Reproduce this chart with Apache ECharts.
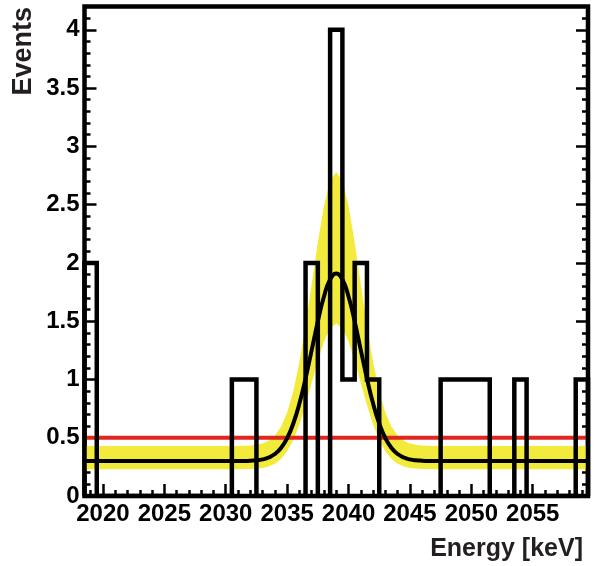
<!DOCTYPE html>
<html>
<head>
<meta charset="utf-8">
<script src="https://cdn.jsdelivr.net/npm/echarts@6/dist/echarts.min.js"></script>
<style>
  html, body { margin: 0; padding: 0; background: #ffffff; }
  #chart { width: 594px; height: 566px; }
</style>
</head>
<body>
<div id="chart"></div>
<script>
// Histogram: 1 keV bins, centres and counts
const binCentres = [2019, 2020, 2021, 2022, 2023, 2024, 2025, 2026, 2027, 2028,
  2029, 2030, 2031, 2032, 2033, 2034, 2035, 2036, 2037, 2038, 2039, 2040, 2041,
  2042, 2043, 2044, 2045, 2046, 2047, 2048, 2049, 2050, 2051, 2052, 2053, 2054,
  2055, 2056, 2057, 2058, 2059];
const eventCounts = [2, 0, 0, 0, 0, 0, 0, 0, 0, 0,
  0, 0, 1, 1, 0, 0, 0, 0, 2, 0, 4, 1, 2,
  1, 0, 0, 0, 0, 0, 1, 1, 1, 1, 0, 0, 1,
  0, 0, 0, 0, 1];
const binWidth = 1;

// Fitted line shape (flat background + peak) and its uncertainty band
const fitEnergy = [2018.5, 2031, 2031.5, 2032, 2032.5, 2033, 2033.5, 2034, 2034.5,
  2035, 2035.5, 2036, 2036.5, 2037, 2037.5, 2038, 2038.5, 2039, 2039.5, 2040,
  2040.5, 2041, 2041.5, 2042, 2042.5, 2043, 2043.5, 2044, 2044.5, 2045, 2045.5,
  2046, 2046.5, 2047, 2059.5];
const fitEvents = [0.300, 0.300, 0.301, 0.303, 0.306, 0.314, 0.330, 0.360, 0.412,
  0.496, 0.622, 0.793, 1.008, 1.252, 1.498, 1.712, 1.858, 1.910, 1.858, 1.712,
  1.498, 1.252, 1.008, 0.793, 0.622, 0.496, 0.412, 0.360, 0.330, 0.314, 0.306,
  0.303, 0.301, 0.300, 0.300];
const bandLow = [0.230, 0.230, 0.231, 0.232, 0.235, 0.241, 0.253, 0.277, 0.317,
  0.383, 0.480, 0.613, 0.780, 0.969, 1.160, 1.326, 1.440, 1.480, 1.440, 1.326,
  1.160, 0.969, 0.780, 0.613, 0.480, 0.383, 0.317, 0.277, 0.253, 0.241, 0.235,
  0.232, 0.231, 0.230, 0.230];
const bandHigh = [0.430, 0.430, 0.431, 0.434, 0.439, 0.451, 0.474, 0.518, 0.594,
  0.717, 0.899, 1.150, 1.463, 1.819, 2.178, 2.490, 2.704, 2.780, 2.704, 2.490,
  2.178, 1.819, 1.463, 1.150, 0.899, 0.717, 0.594, 0.518, 0.474, 0.451, 0.439,
  0.434, 0.431, 0.430, 0.430];

// Flat reference level
const flatLevel = 0.5;

// Axis ranges and tick labels
const xRange = [2018.5, 2059.5];
const yRange = [0, 4.2];
const xTickLabels = [2020, 2025, 2030, 2035, 2040, 2045, 2050, 2055];
const yTickLabels = [0, 0.5, 1, 1.5, 2, 2.5, 3, 3.5, 4];

// Minor ticks: every 1 keV and every 0.1 events
const xMinorTicks = [];
for (let e = 2019; e <= 2059; e++) if (xTickLabels.indexOf(e) < 0) xMinorTicks.push(e);
const yMinorTicks = [];
for (let k = 1; k <= 41; k++) if (k % 5 !== 0) yMinorTicks.push(+(k / 10).toFixed(1));

// Step outline points: left edge of each bin, closed at the right end
const histPoints = [[xRange[0], 0]];
binCentres.forEach((c, i) => histPoints.push([c - binWidth / 2, eventCounts[i]]));
histPoints.push([binCentres[binCentres.length - 1] + binWidth / 2, eventCounts[eventCounts.length - 1]]);
histPoints.push([xRange[1], 0]);

const fitPoints = fitEnergy.map((e, i) => [e, fitEvents[i]]);
const flatPoints = [[xRange[0], flatLevel], [xRange[1], flatLevel]];

const tickFont = '"Liberation Sans", Arial, Helvetica, sans-serif';
const titleFont = '"Liberation Sans", Arial, Helvetica, sans-serif';
const tickLine = { color: '#000', width: 2.5 };

function labelStyle(values) {
  return {
    show: true, customValues: values, fontFamily: tickFont, fontSize: 24,
    fontWeight: 'bold', color: '#000', hideOverlap: false,
    showMinLabel: true, showMaxLabel: true,
    formatter: v => String(v)
  };
}
function xAxisDef(values, len, withLabels) {
  const lbl = labelStyle(values);
  lbl.margin = 6;
  return {
    type: 'value', position: 'bottom', min: xRange[0], max: xRange[1],
    axisLine: { show: false }, splitLine: { show: false },
    axisTick: { show: true, inside: true, length: len, customValues: values, lineStyle: tickLine },
    axisLabel: withLabels ? lbl : { show: false }
  };
}
function yAxisDef(values, len, pos, withLabels) {
  const lbl = labelStyle(values);
  lbl.margin = 5;
  return {
    type: 'value', position: pos, min: yRange[0], max: yRange[1],
    axisLine: { show: false }, splitLine: { show: false },
    axisTick: { show: true, inside: true, length: len, customValues: values, lineStyle: tickLine },
    axisLabel: withLabels ? lbl : { show: false }
  };
}

// Band polygon: upper edge left to right, lower edge back
function renderBand(params, api) {
  if (params.dataIndex !== 0) return null;
  const pts = [];
  for (let i = 0; i < fitEnergy.length; i++) pts.push(api.coord([fitEnergy[i], bandHigh[i]]));
  for (let i = fitEnergy.length - 1; i >= 0; i--) pts.push(api.coord([fitEnergy[i], bandLow[i]]));
  return {
    type: 'polygon',
    shape: { points: pts },
    style: { fill: '#f2eb3b', stroke: null }
  };
}

const chart = echarts.init(document.getElementById('chart'), null, { renderer: 'canvas' });
chart.setOption({
  animation: false,
  backgroundColor: '#ffffff',
  grid: {
    left: 84.5, right: 6, top: 6.5, bottom: 70,
    show: true, borderColor: '#000', borderWidth: 4.5, backgroundColor: 'transparent'
  },
  xAxis: [
    xAxisDef(xTickLabels, 12, true),
    xAxisDef(xMinorTicks, 6, false)
  ],
  yAxis: [
    yAxisDef(yTickLabels, 12, 'left', true),
    yAxisDef(yMinorTicks, 6, 'left', false),
    yAxisDef(yTickLabels, 12, 'right', false),
    yAxisDef(yMinorTicks, 6, 'right', false)
  ],
  series: [
    {
      name: 'band', type: 'custom', renderItem: renderBand,
      data: [[fitEnergy[0], bandLow[0]]], encode: { x: 0, y: 1 },
      silent: true, z: 1
    },
    {
      name: 'flat', type: 'line', data: flatPoints, symbol: 'none',
      lineStyle: { color: '#e1251f', width: 4 }, z: 2
    },
    {
      name: 'fit', type: 'line', data: fitPoints, symbol: 'none', smooth: true,
      lineStyle: { color: '#000', width: 4 }, z: 3
    },
    {
      name: 'events', type: 'line', data: histPoints, step: 'end', symbol: 'none',
      lineStyle: { color: '#000', width: 4.5, join: 'miter' }, z: 4
    }
  ],
  graphic: [
    {
      type: 'text', x: 24, y: 7, rotation: Math.PI / 2,
      style: {
        text: 'Events', fontFamily: titleFont, fontSize: 27, fontWeight: 'bold',
        fill: '#231f20', align: 'right', verticalAlign: 'middle'
      }
    },
    {
      type: 'text', x: 583, y: 549,
      style: {
        text: 'Energy [keV]', fontFamily: titleFont, fontSize: 25, fontWeight: 'bold',
        fill: '#231f20', align: 'right', verticalAlign: 'middle'
      }
    }
  ]
});
</script>
</body>
</html>
